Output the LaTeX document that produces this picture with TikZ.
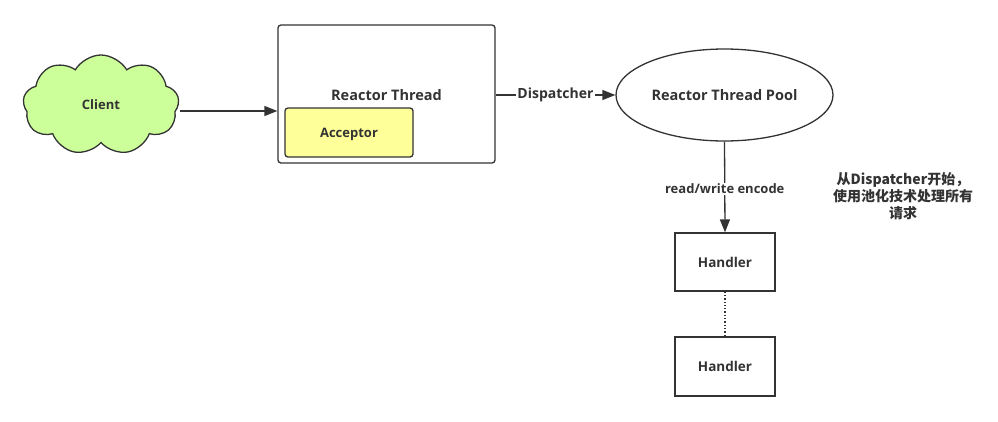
\documentclass[tikz,border=0pt]{standalone}
\usepackage{fontspec}
\setmainfont{Open Sans}
\newfontfamily\cjk{Noto Sans CJK SC}
\usetikzlibrary{shapes.symbols,shapes.geometric,arrows.meta}
\definecolor{ink}{HTML}{333333}
\definecolor{cgreen}{HTML}{CCFF99}
\definecolor{cyellow}{HTML}{FFFF99}
\begin{document}
\begin{tikzpicture}[x=1pt,y=-1pt,
  every node/.style={text=ink,font=\bfseries},
  line/.style={draw=ink,line width=1.3pt},
  arr/.style={line,-{Triangle[length=13pt,width=10pt]}},
  box/.style={line,rectangle,inner sep=0pt},
  big/.style={font=\fontsize{14.5}{17}\selectfont\bfseries},
  mid/.style={font=\fontsize{13}{15}\selectfont\bfseries},
  lbl/.style={fill=white,inner sep=1pt}]
\useasboundingbox (0,0) rectangle (998,421);
\node[line,cloud,cloud puffs=9,cloud puff arc=120,aspect=1.6,fill=cgreen,
  minimum width=156pt,minimum height=100pt,mid] (client) at (101,105) {Client};
\node[box,rounded corners=3pt,minimum width=217pt,minimum height=138pt] (rt) at (386.5,94) {};
\node[big] (rtl) at (386.5,95) {Reactor Thread};
\node[box,rounded corners=3pt,fill=cyellow,minimum width=128pt,minimum height=49pt,mid,text depth=0pt,yshift=-1pt] (acc) at (349,131.5) {Acceptor};
\node[line,ellipse,minimum width=217pt,minimum height=92pt,big] (pool) at (724.5,95) {Reactor Thread Pool};
\node[box,minimum width=100pt,minimum height=58pt,font=\fontsize{13.5}{15}\selectfont\bfseries] (h1) at (725,262) {Handler};
\node[box,minimum width=100pt,minimum height=59pt,font=\fontsize{13.5}{15}\selectfont\bfseries] (h2) at (725,366.5) {Handler};
\coordinate (cr) at (180,111);
\draw[arr] (cr) -- (rt.west |- cr);
\draw[arr] (rt.east |- pool) -- node[lbl,font=\fontsize{14}{16}\selectfont\bfseries]{Dispatcher} (pool.west);
\draw[arr] (pool.south) -- node[lbl,pos=0.52,mid]{read/write encode} (h1.north);
\draw[line,dotted] (h1.south) -- (h2.south |- h2.north);
\node[align=center,font=\cjk\bfseries\fontsize{14}{17}\selectfont] (note) at (903,196) {从Dispatcher开始，\\使用池化技术处理所有\\请求};
\end{tikzpicture}
\end{document}
